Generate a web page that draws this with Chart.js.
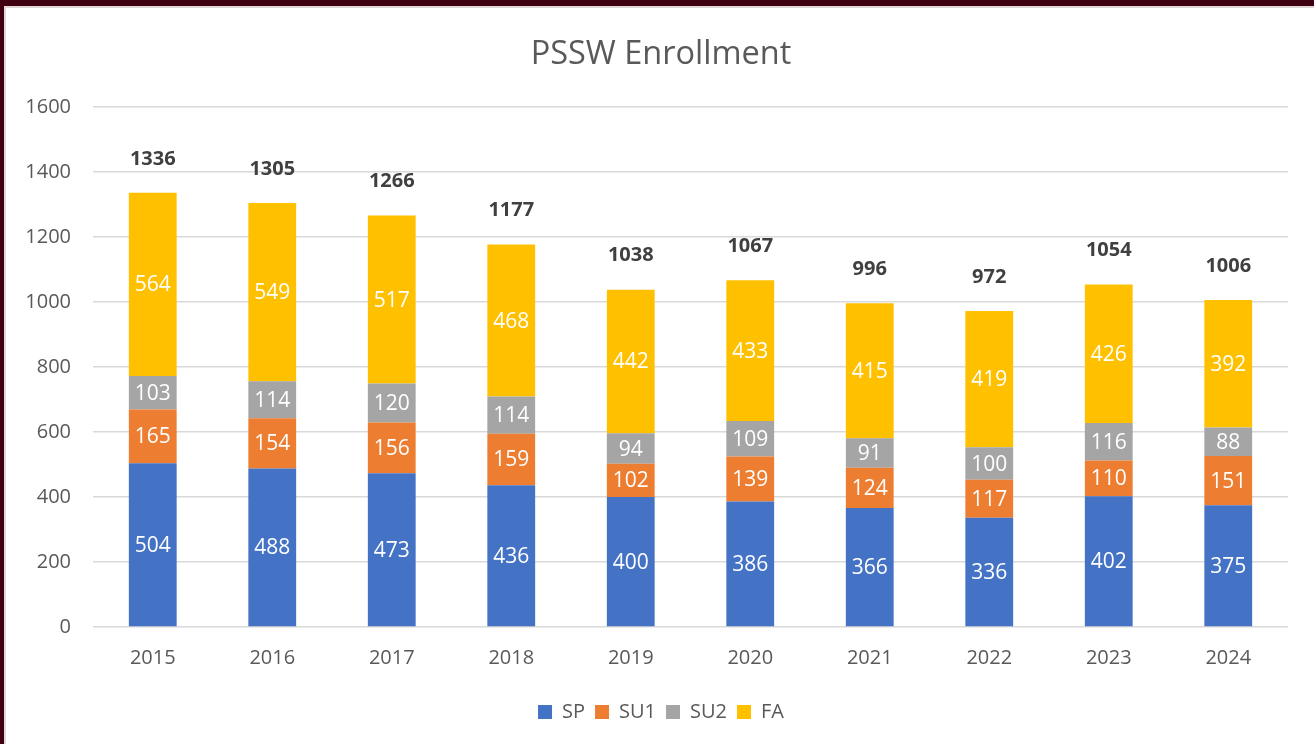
<!DOCTYPE html>
<html>
<head>
<meta charset="utf-8">
<script src="https://cdn.jsdelivr.net/npm/chart.js@4"></script>
<style>
  html, body { margin: 0; padding: 0; background: #fff; }
  #wrap { position: relative; width: 1314px; height: 744px; overflow: hidden; }
  canvas { position: absolute; left: 0; top: 0; }
  .b { position: absolute; }
</style>
</head>
<body>
<div id="wrap">
  <canvas id="c" width="1314" height="744"></canvas>
  <div class="b" style="left:0;top:0;width:1314px;height:6px;background:#3f0012;"></div>
  <div class="b" style="left:4px;top:6px;width:1310px;height:2px;background:#e2d6d9;"></div>
  <div class="b" style="left:0;top:0;width:4px;height:744px;background:#3f0012;"></div>
  <div class="b" style="left:4px;top:6px;width:2px;height:738px;background:#d9d9d9;"></div>
</div>
<script>
const years = ['2015','2016','2017','2018','2019','2020','2021','2022','2023','2024'];
const sp  = [504, 488, 473, 436, 400, 386, 366, 336, 402, 375];
const su1 = [165, 154, 156, 159, 102, 139, 124, 117, 110, 151];
const su2 = [103, 114, 120, 114,  94, 109,  91, 100, 116,  88];
const fa  = [564, 549, 517, 468, 442, 433, 415, 419, 426, 392];
const totals = [1336, 1305, 1266, 1177, 1038, 1067, 996, 972, 1054, 1006];
const yTicks = [0, 200, 400, 600, 800, 1000, 1200, 1400, 1600];

const FONT = "'Open Sans', sans-serif";

const labelPlugin = {
  id: 'labels',
  afterDatasetsDraw(chart) {
    const ctx = chart.ctx;
    ctx.save();
    ctx.textAlign = 'center';
    ctx.textBaseline = 'middle';
    ctx.fillStyle = '#ffffff';
    ctx.font = "21px " + FONT;
    chart.data.datasets.forEach((ds, di) => {
      const meta = chart.getDatasetMeta(di);
      meta.data.forEach((bar, i) => {
        const y = (bar.y + bar.base) / 2;
        ctx.fillText(String(ds.data[i]), bar.x, y + 1);
      });
    });
    const last = chart.getDatasetMeta(chart.data.datasets.length - 1);
    ctx.fillStyle = '#404040';
    ctx.font = "bold 20px " + FONT;
    last.data.forEach((bar, i) => {
      const y = chart.scales.y.getPixelForValue(totals[i]);
      ctx.fillText(String(totals[i]), bar.x, y - 34);
    });
    ctx.restore();
  }
};

new Chart(document.getElementById('c'), {
  type: 'bar',
  data: {
    labels: years,
    datasets: [
      { label: 'SP',  data: sp,  backgroundColor: '#4472C4' },
      { label: 'SU1', data: su1, backgroundColor: '#ED7D31' },
      { label: 'SU2', data: su2, backgroundColor: '#A5A5A5' },
      { label: 'FA',  data: fa,  backgroundColor: '#FFC000' }
    ]
  },
  options: {
    responsive: false,
    animation: false,
    devicePixelRatio: 1,
    layout: { padding: { left: 8, right: 0, top: 0, bottom: 12 } },
    datasets: { bar: { barPercentage: 0.4, categoryPercentage: 1.0, borderWidth: 0 } },
    plugins: {
      title: {
        display: true,
        text: 'PSSW Enrollment',
        color: '#595959',
        font: { family: FONT, size: 32.5, weight: 'normal' },
        padding: { top: 35, bottom: 33 }
      },
      legend: {
        position: 'bottom',
        labels: {
          color: '#595959',
          font: { family: FONT, size: 20 },
          boxWidth: 14,
          boxHeight: 14,
          padding: 10
        }
      },
      tooltip: { enabled: false }
    },
    scales: {
      x: {
        stacked: true,
        grid: { display: false, drawTicks: false },
        border: { display: false },
        ticks: { color: '#595959', font: { family: FONT, size: 20 }, padding: 19 },
        afterFit(scale) { scale.height = 65; }
      },
      y: {
        stacked: true,
        min: 0,
        max: 1600,
        afterBuildTicks(scale) { scale.ticks = yTicks.map(v => ({ value: v })); },
        grid: { color: '#d9d9d9', lineWidth: 1.5, drawTicks: false },
        border: { display: false },
        ticks: {
          color: '#595959', font: { family: FONT, size: 20 }, padding: 22,
          callback: (v) => String(v)
        },
        afterFit(scale) { scale.width = 85; }
      },
      yRight: {
        position: 'right',
        display: true,
        min: 0,
        max: 1600,
        grid: { display: false, drawTicks: false },
        border: { display: false },
        ticks: { display: false },
        afterFit(scale) { scale.width = 26; }
      }
    }
  },
  plugins: [labelPlugin]
});
</script>
</body>
</html>
